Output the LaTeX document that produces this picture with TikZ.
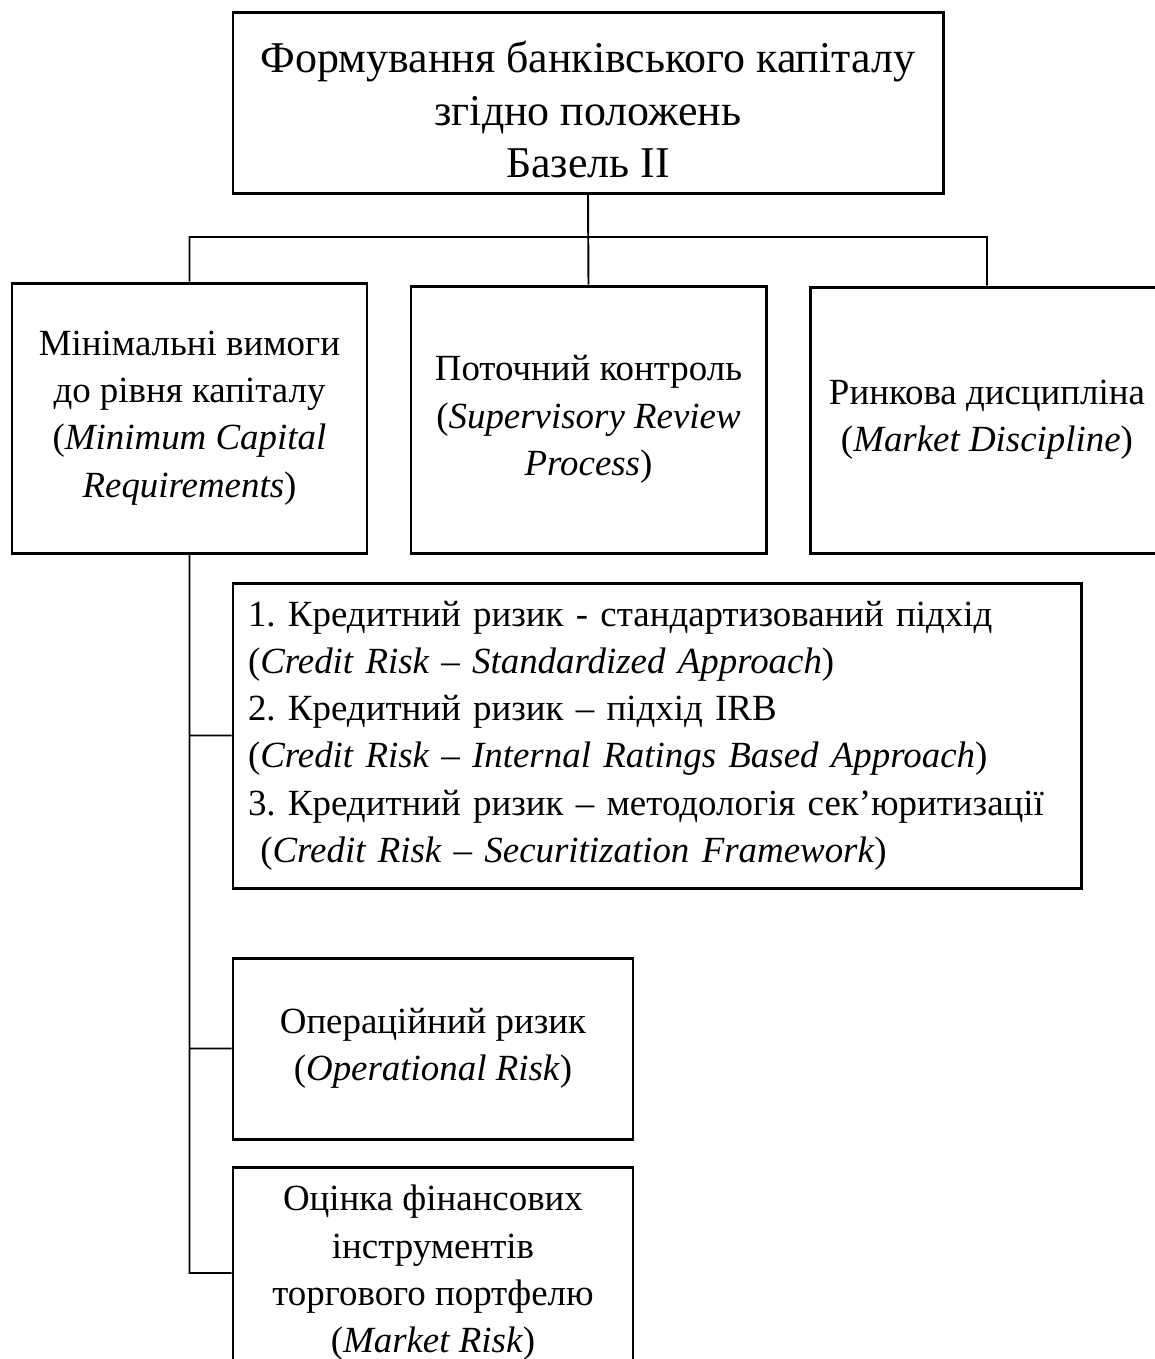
\documentclass[tikz,border=0pt]{standalone}
\usepackage{fontspec}
\setmainfont{Liberation Serif}
\usepackage{tikz}
\usetikzlibrary{positioning}
\frenchspacing
\tikzset{
box/.style={draw, line width=1.7pt, inner sep=0pt, align=center, font=\fontsize{21}{26.9}\selectfont}, % every frame
link/.style={line width=1.1pt}, % the thin connecting lines
}

\begin{document}
\begin{tikzpicture}
    \clip (0,0) rectangle (23.1,-27.18);
    \node[box, minimum width=14.2cm, minimum height=3.62cm, font=\fontsize{25}{29.8}\selectfont] at (11.76,-2.05) (top) {\rule{0pt}{1.05em}Формування банківського капіталу\\згідно положень\\Базель II};
    \node[box, minimum width=7.1cm, minimum height=5.4cm] at (3.79,-8.36) (minreq) {Мінімальні вимоги\\до рівня капіталу\\(\textit{Minimum Capital}\\\textit{Requirements})};
    \node[box, minimum width=7.1cm, minimum height=5.34cm] at (11.77,-8.39) (review) {Поточний контроль\\(\textit{Supervisory Review}\\\textit{Process})};
    \node[box, minimum width=7.08cm, minimum height=5.32cm] at (19.74,-8.40) (market) {Ринкова дисципліна\\(\textit{Market Discipline})};
    \node[box, minimum width=16.96cm, minimum height=6.1cm, align=left, text width=16.36cm, inner xsep=0.3cm] at (13.14,-14.71) (credit) {1. Кредитний ризик - стандартизований підхід\\(\textit{Credit Risk – Standardized Approach})\\2. Кредитний ризик – підхід IRB\\(\textit{Credit Risk – Internal Ratings Based Approach})\\3. Кредитний ризик – методологія сек’юритизації\\\ (\textit{Credit Risk – Securitization Framework})};
    \node[box, minimum width=8cm, minimum height=3.62cm] at (8.66,-20.97) (oper) {Операційний ризик\\(\textit{Operational Risk})};
    \node[box, minimum width=8cm, minimum height=4.24cm] at (8.66,-25.46) (trade) {Оцінка фінансових\\інструментів\\торгового портфелю\\(\textit{Market Risk})};
    \coordinate (bus) at (11.76,-4.74);
    \draw[link]
    (top.south) -- (review.north)
    (minreq.north) |- (bus) -| (market.north)
    (minreq.south) |- (credit.west)
    (minreq.south) |- (oper.west)
    (minreq.south) |- (trade.west)
    ;
\end{tikzpicture}
\end{document}
